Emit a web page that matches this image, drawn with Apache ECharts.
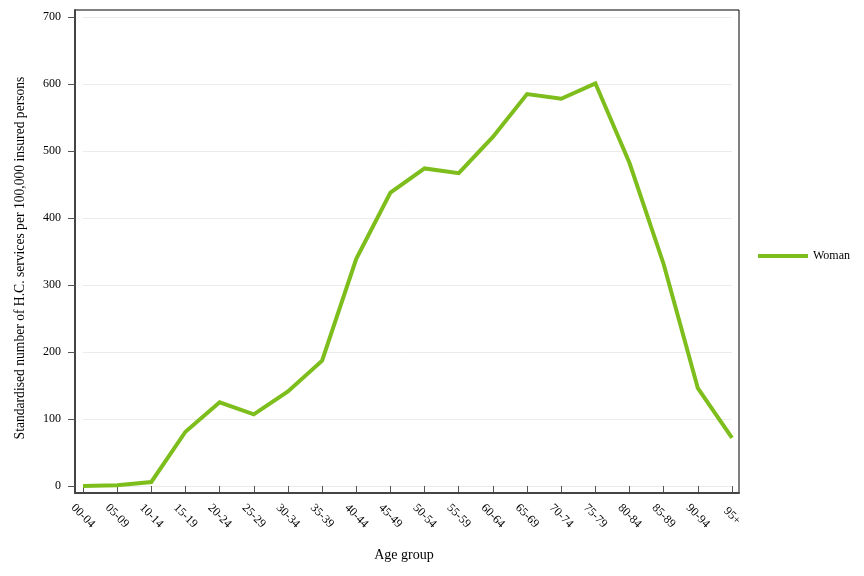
<!DOCTYPE html>
<html>
<head>
<meta charset="utf-8">
<script src="https://cdn.jsdelivr.net/npm/echarts@6/dist/echarts.min.js"></script>
<style>
html,body{margin:0;padding:0;background:#fff;}
#chart{width:864px;height:576px;}
</style>
</head>
<body>
<div id="chart"></div>
<script>
var categories = ["00-04","05-09","10-14","15-19","20-24","25-29","30-34","35-39","40-44","45-49","50-54","55-59","60-64","65-69","70-74","75-79","80-84","85-89","90-94","95+"];
var woman = [0, 1, 6, 81, 125, 107, 141, 187, 339, 438, 474, 467, 521, 585, 578, 601, 482, 331, 146, 72];
var yTicks = [0, 100, 200, 300, 400, 500, 600, 700];

var FONT = '"Liberation Serif","DejaVu Serif",serif';
var chart = echarts.init(document.getElementById('chart'));
chart.setOption({
  animation: false,
  backgroundColor: '#fff',
  grid: [
    {left: 83, right: 132, top: 17, bottom: 90, show: false},
    {left: 75, right: 125, top: 10, bottom: 83, show: true, borderColor: '#000', borderWidth: 1, backgroundColor: 'transparent', z: 0}
  ],
  legend: {
    left: 753, top: 245, orient: 'vertical',
    icon: 'rect', itemWidth: 50, itemHeight: 4, itemGap: 5,
    textStyle: {fontFamily: FONT, fontSize: 12, color: '#000'},
    data: ['Woman']
  },
  xAxis: [
    {
      type: 'category', gridIndex: 0, data: categories, boundaryGap: false,
      offset: 7,
      name: 'Age group', nameLocation: 'middle', nameGap: 55,
      nameTextStyle: {fontFamily: FONT, fontSize: 14, color: '#000', padding: [0, 7, 0, 0]},
      axisLine: {show: false},
      axisTick: {show: true, length: 6, lineStyle: {color: '#555', width: 1}},
      axisLabel: {rotate: -45, fontFamily: FONT, fontSize: 12, color: '#000', margin: 23, interval: 0,
        align: 'center', verticalAlign: 'middle'},
      splitLine: {show: false}
    },
    {
      type: 'category', gridIndex: 1, data: categories, show: true,
      axisLine: {lineStyle: {color: '#444', width: 2}},
      axisTick: {show: false}, axisLabel: {show: false}, splitLine: {show: false}
    }
  ],
  yAxis: [
    {
      type: 'value', gridIndex: 0, min: 0, max: 700, interval: 100,
      offset: 8,
      name: 'Standardised number of H.C. services per 100,000 insured persons',
      nameLocation: 'middle', nameGap: 48,
      nameTextStyle: {fontFamily: FONT, fontSize: 13.6, color: '#000', padding: [0, 13, 0, 0]},
      axisLine: {show: false},
      axisTick: {show: true, length: 7, lineStyle: {color: '#555', width: 1}},
      axisLabel: {fontFamily: FONT, fontSize: 12, color: '#000', margin: 14,
        formatter: function (v) { return yTicks.indexOf(v) >= 0 ? String(v) : ''; }},
      splitLine: {show: true, lineStyle: {color: '#ebebeb', width: 1}}
    },
    {
      type: 'value', gridIndex: 1, show: true,
      axisLine: {show: true, lineStyle: {color: '#444', width: 2}},
      axisTick: {show: false}, axisLabel: {show: false}, splitLine: {show: false}
    }
  ],
  series: [{
    name: 'Woman', type: 'line', xAxisIndex: 0, yAxisIndex: 0,
    data: woman, showSymbol: false, symbol: 'none',
    lineStyle: {color: '#7dbe1c', width: 4, join: 'miter'},
    itemStyle: {color: '#7dbe1c'}, z: 5
  }]
});
</script>
</body>
</html>
